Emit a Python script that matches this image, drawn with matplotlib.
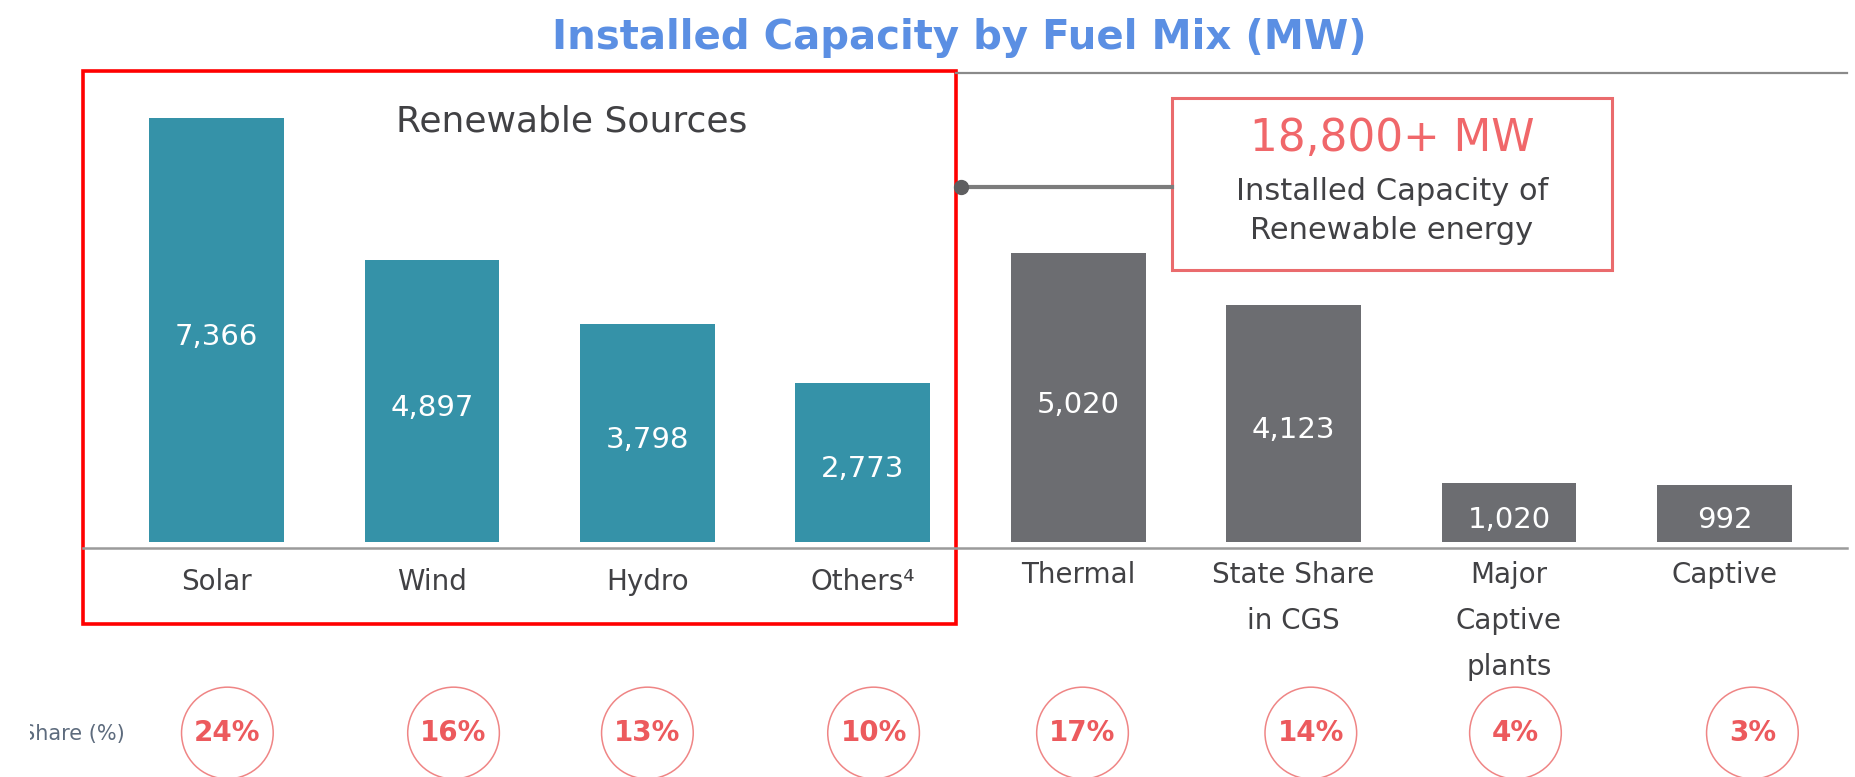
#Installed capacity by fuel mix - bar chart with renewable callout

import numpy as np
import matplotlib.pyplot as plt
from matplotlib.patches import Rectangle
from matplotlib.transforms import blended_transform_factory, Bbox

'''---Data---'''
sources = ["Solar", "Wind", "Hydro", "Others\u2074", "Thermal",
           "State Share\nin CGS", "Major\nCaptive\nplants", "Captive"]
capacity = [7366, 4897, 3798, 2773, 5020, 4123, 1020, 992]
share = [24, 16, 13, 10, 17, 14, 4, 3]
renewable = [True, True, True, True, False, False, False, False]
callout_value = "18,800+ MW"
callout_text = "Installed Capacity of\nRenewable energy"

#colours
teal = "#3592a8"
grey = "#6c6d71"
red = "#ff0000"
pink = "#ea6b6d"
pct_red = "#ec5a5d"
label_col = "#414144"

W, H = 1856, 777   #pixels
slot = 215.4       #pixels between bar centres
x0 = 216.6         #pixel position of first bar
base = 542         #pixel row of bar bottoms
px_per_mw = 0.0575

'''---Plot---'''
fig = plt.figure(figsize=(W/100, H/100), dpi=100)

ax = fig.add_axes([0, (H-base)/H, 1, base/H])
x = np.arange(len(capacity))
ax.bar(x, capacity, width=0.626, color=[teal if r else grey for r in renewable])
ax.set_xlim(-x0/slot, (W-x0)/slot)
ax.set_ylim(0, base/px_per_mw)
ax.axis('off')

#overlay in pixel coordinates for the decorations
ov = fig.add_axes([0, 0, 1, 1])
ov.set_xlim(0, W)
ov.set_ylim(H, 0)
ov.axis('off')
tr = blended_transform_factory(ax.transData, ov.transData)

#values inside the bars
for i, v in enumerate(capacity):
    ax.text(i, v/2 - 120, f"{v:,}", ha='center', va='center', color='white', fontsize=21)

#category labels
for i, (lab, r) in enumerate(zip(sources, renewable)):
    if r:
        ax.text(i, 582, lab, transform=tr, ha='center', va='center', fontsize=20, color=label_col)
    else:
        ax.text(i, 561, lab, transform=tr, ha='center', va='top', fontsize=20,
                color=label_col, linespacing=1.82)

#share circles
share_dx = [0.05, 0.10, 0.0, 0.05, 0.02, 0.08, 0.03, 0.13]
ax.scatter(x + np.array(share_dx), [733]*len(share), transform=tr, s=66**2,
           facecolors='none', edgecolors='#ef8585', linewidths=1.1, clip_on=False)
for i, s in enumerate(share):
    ax.text(i + share_dx[i], 733, f"{s}%", transform=tr, ha='center', va='center',
            fontsize=20, fontweight='bold', color=pct_red)

t = ov.text(125, 734, "Share (%)", ha='right', va='center', fontsize=15, color='#5d6b7d')
t.set_clip_box(Bbox.from_extents(30, 0, W, H))
t.set_clip_on(True)

#lines and boxes
ov.plot([956, 1847], [73, 73], color='#8a8a8a', lw=1.6)
ov.plot([83, 1847], [548, 548], color='#9b9b9b', lw=1.8)
ov.add_patch(Rectangle((83, 71), 956-83, 624-71, fill=False, ec=red, lw=2.6))
ov.plot([961, 1172], [187, 187], color='#7c7c7c', lw=3)
ov.plot(961, 187, 'o', ms=10, color='#5e5e60')
ov.add_patch(Rectangle((1172, 98), 440, 172, fc='white', ec=pink, lw=2.2))

ov.text(1392, 138, callout_value, ha='center', va='center', fontsize=31.5, color='#f0676a')
ov.text(1392, 211, callout_text, ha='center', va='center', fontsize=22,
        color=label_col, linespacing=1.4)
ov.text(572, 122, "Renewable Sources", ha='center', va='center', fontsize=26, color=label_col)

fig.text(959/W, 1 - 38/H, "Installed Capacity by Fuel Mix (MW)", ha='center', va='center',
         fontsize=29, fontweight='bold', color='#5b8fe3')

plt.savefig("out.png", dpi=100)
